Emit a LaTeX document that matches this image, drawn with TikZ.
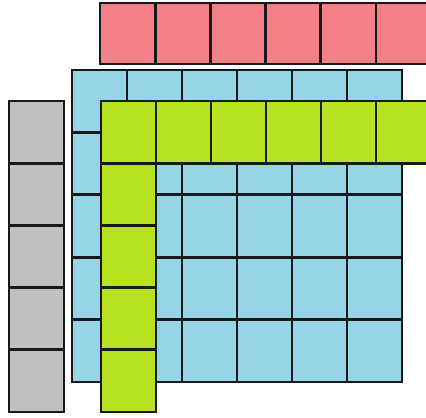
\documentclass[tikz,border=0pt]{standalone}
\definecolor{cred}{RGB}{243,128,134}
\definecolor{cblue}{RGB}{150,213,232}
\definecolor{cgreen}{RGB}{182,226,32}
\definecolor{cgray}{RGB}{192,192,192}
\begin{document}
\begin{tikzpicture}[x=0.75pt,y=-0.75pt,
  cell/.style={draw=black!90, line width=2pt}]
\useasboundingbox (0,0) rectangle (426,418);
\clip (0,0) rectangle (426,418);
% red row
\foreach \i in {0,...,5}
  \draw[cell,fill=cred] (100+55.2*\i,3) rectangle ++(55.2,61);
% blue grid
\foreach \i in {0,...,5}
  \foreach \j in {0,...,4}
    \draw[cell,fill=cblue] (72+55*\i,70+62.4*\j) rectangle ++(55,62.4);
% gray column
\foreach \j in {0,...,4}
  \draw[cell,fill=cgray] (9,101+62.2*\j) rectangle ++(55,62.2);
% green row
\foreach \i in {0,...,5}
  \draw[cell,fill=cgreen] (101+55*\i,101) rectangle ++(55,62.2);
% green column
\foreach \j in {1,...,4}
  \draw[cell,fill=cgreen] (101,101+62.2*\j) rectangle ++(55,62.2);
\end{tikzpicture}
\end{document}
